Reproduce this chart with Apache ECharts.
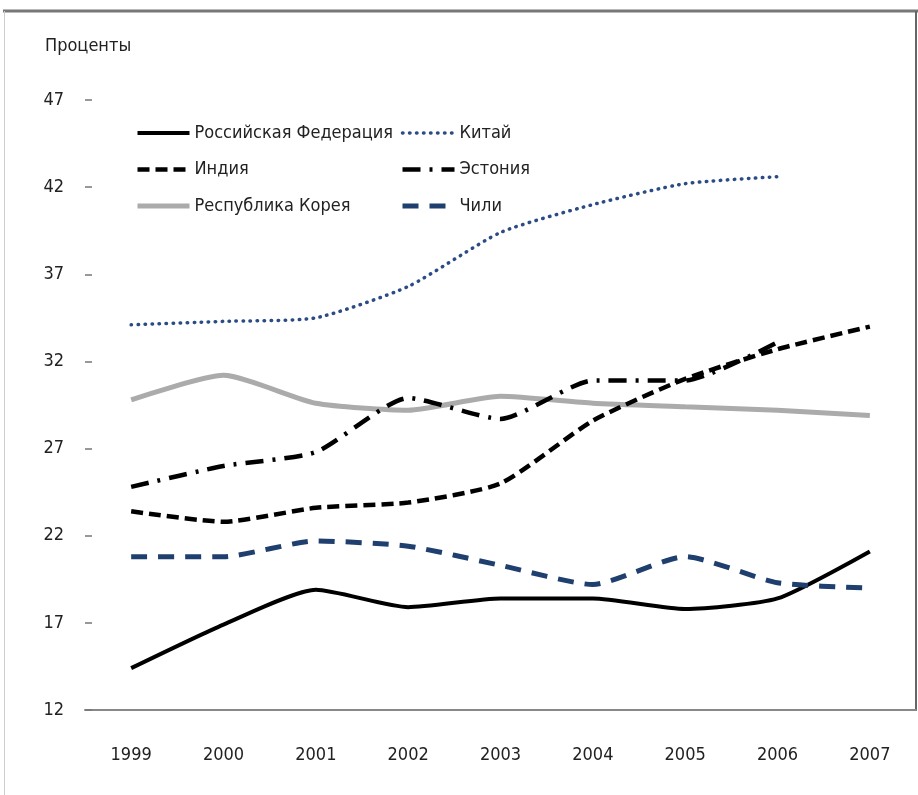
<!DOCTYPE html>
<html>
<head>
<meta charset="utf-8">
<script src="https://cdn.jsdelivr.net/npm/echarts@6/dist/echarts.min.js"></script>
<style>
  html, body { margin: 0; padding: 0; background: #fff; }
  #chart { width: 918px; height: 795px; }
</style>
</head>
<body>
<div id="chart"></div>
<script>
// years on the x axis
var years = ["1999", "2000", "2001", "2002", "2003", "2004", "2005", "2006", "2007"];

// shares, percent
var russia  = [14.4, 16.9, 18.9, 17.9, 18.4, 18.4, 17.8, 18.4, 21.1];
var china   = [34.1, 34.3, 34.5, 36.3, 39.4, 41.0, 42.2, 42.6, null];
var india   = [23.4, 22.8, 23.6, 23.9, 25.0, 28.6, 31.0, 32.7, 34.0];
var estonia = [24.8, 26.0, 26.8, 29.9, 28.7, 30.9, 30.9, 33.1, null];
var korea   = [29.8, 31.2, 29.6, 29.2, 30.0, 29.6, 29.4, 29.2, 28.9];
var chile   = [20.8, 20.8, 21.7, 21.4, 20.3, 19.2, 20.8, 19.3, 19.0];

var FONT = "'DejaVu Sans Condensed', 'Liberation Sans Narrow', sans-serif";

var chart = echarts.init(document.getElementById("chart"));

function line(name, data, color, width, type, extra) {
  var s = {
    name: name,
    type: "line",
    data: data,
    smooth: 0.2,
    symbol: "none",
    connectNulls: false,
    lineStyle: { color: color, width: width, type: type },
    itemStyle: { color: color }
  };
  if (extra) {
    for (var k in extra) s.lineStyle[k] = extra[k];
  }
  return s;
}

// legend entry: keep the series' dash pattern but with the real line width, no marker
function entry(name, width, cap) {
  var ls = { width: width };
  if (cap) ls.cap = cap;
  return { name: name, lineStyle: ls, itemStyle: { opacity: 0 } };
}

var legendBase = {
  orient: "vertical",
  top: 119,
  itemWidth: 52,
  itemHeight: 20,
  itemGap: 18.5,
  textStyle: { fontFamily: FONT, fontSize: 18, color: "#222" }
};

var option = {
  animation: false,
  backgroundColor: "#fff",
  textStyle: { fontFamily: FONT },
  title: {
    text: "Проценты",
    left: 40,
    top: 32,
    textStyle: { fontFamily: FONT, fontSize: 18, fontWeight: "normal", color: "#222" }
  },
  legend: [
    Object.assign({}, legendBase, {
      left: 130,
      data: [
        entry("Российская Федерация", 4),
        entry("Индия", 4.5),
        entry("Республика Корея", 5)
      ]
    }),
    Object.assign({}, legendBase, {
      left: 395,
      data: [
        entry("Китай", 3.5, "round"),
        entry("Эстония", 4.5),
        entry("Чили", 5)
      ]
    })
  ],
  grid: { left: 85, right: 2, top: 100, bottom: 85, containLabel: false },
  xAxis: {
    type: "category",
    data: years,
    boundaryGap: true,
    axisLine: { lineStyle: { color: "#888", width: 2 } },
    axisTick: { inside: true, length: 12, lineStyle: { color: "#999", width: 1 } },
    axisLabel: { margin: 36, fontFamily: FONT, fontSize: 18, color: "#222" },
    splitLine: { show: false }
  },
  yAxis: {
    type: "value",
    min: 12,
    max: 47,
    interval: 5,
    axisLine: { show: false },
    axisTick: { show: true, inside: true, length: 7, lineStyle: { color: "#777", width: 1.5 } },
    axisLabel: { margin: 21, fontFamily: FONT, fontSize: 18, color: "#222" },
    splitLine: { show: false }
  },
  graphic: [
    { type: "line", shape: { x1: 3, y1: 11, x2: 918, y2: 11 }, style: { stroke: "#777", lineWidth: 3 } },
    { type: "line", shape: { x1: 4.5, y1: 11, x2: 4.5, y2: 795 }, style: { stroke: "#ccc", lineWidth: 1 } },
    { type: "line", shape: { x1: 916, y1: 11, x2: 916, y2: 711 }, style: { stroke: "#666", lineWidth: 2 } }
  ],
  series: [
    line("Республика Корея", korea, "#ababab", 5, "solid"),
    line("Российская Федерация", russia, "#000", 4, "solid"),
    line("Китай", china, "#2b4b85", 3.5, [0.5, 6.5], { cap: "round" }),
    line("Индия", india, "#000", 4.5, [12, 6]),
    line("Эстония", estonia, "#000", 4.5, [18, 9, 3, 9]),
    line("Чили", chile, "#1f3f6f", 5, [16, 11])
  ]
};

chart.setOption(option);
</script>
</body>
</html>
